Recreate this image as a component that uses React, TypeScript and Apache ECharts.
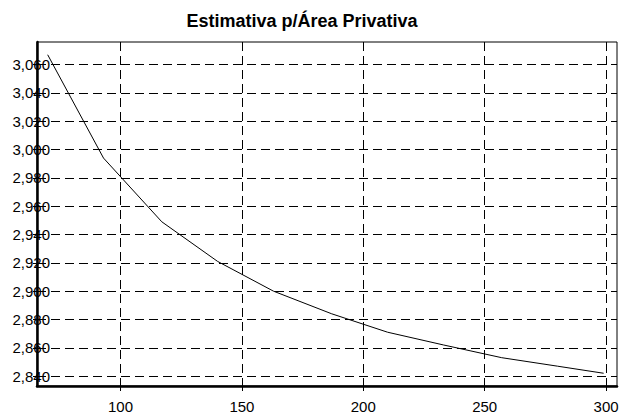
import React, { useEffect, useRef } from "react";
import * as echarts from "echarts";

const titleText = "Estimativa p/Área Privativa";
const areaValues = [70, 93, 117, 140, 163, 187, 210, 233, 257, 280, 299];
const estimateValues = [3067, 2994, 2949, 2921, 2900, 2884, 2871, 2862, 2853, 2847, 2842];
const xTickValues = [100, 150, 200, 250, 300];
const yTickValues = [2840, 2860, 2880, 2900, 2920, 2940, 2960, 2980, 3000, 3020, 3040, 3060];

const FONT = "'Liberation Sans', Arial, sans-serif";

export default function App() {
  const ref = useRef<HTMLDivElement>(null);
  useEffect(() => {
    if (!ref.current) return;
    const chart = echarts.init(ref.current, undefined, { renderer: "svg" });
    const grid = { lineStyle: { color: "#000", type: [9, 5] as any, width: 1 } };
    chart.setOption({
      animation: false,
      backgroundColor: "#fff",
      title: {
        text: titleText,
        left: 302,
        textAlign: "center",
        top: 12,
        padding: 0,
        textStyle: { fontFamily: FONT, fontWeight: "bold", fontSize: 18, color: "#000" },
      },
      grid: {
        left: 37,
        right: 8,
        top: 42,
        bottom: 28,
        show: true,
        borderColor: "#000",
        borderWidth: 1,
        backgroundColor: "transparent",
      },
      xAxis: {
        type: "value",
        min: 65.6,
        max: 304.5,
        axisLine: { show: true, onZero: false, lineStyle: { color: "#000", width: 2.5 } },
        axisTick: { show: true, length: 5, lineStyle: { color: "#000" }, customValues: xTickValues },
        axisLabel: {
          customValues: xTickValues,
          color: "#000",
          fontFamily: FONT,
          fontSize: 15,
          margin: 13,
        },
        splitLine: { show: true, ...grid },
      },
      yAxis: {
        type: "value",
        min: 2833,
        max: 3076,
        axisLine: { show: true, onZero: false, lineStyle: { color: "#000", width: 2.5 } },
        axisTick: { show: true, length: 4, lineStyle: { color: "#000" }, customValues: yTickValues },
        axisLabel: {
          customValues: yTickValues,
          color: "#000",
          fontFamily: FONT,
          fontSize: 15,
          margin: -13,
          formatter: (v: number) => v.toLocaleString("en-US"),
        },
        splitLine: { show: true, ...grid },
      },
      series: [
        {
          type: "line",
          data: areaValues.map((x, i) => [x, estimateValues[i]]),
          showSymbol: false,
          symbol: "none",
          lineStyle: { color: "#000", width: 1 },
          z: 5,
        },
      ],
    });
    return () => chart.dispose();
  }, []);
  return <div ref={ref} style={{ width: 625, height: 414, position: "absolute", left: 0, top: 0 }} />;
}
